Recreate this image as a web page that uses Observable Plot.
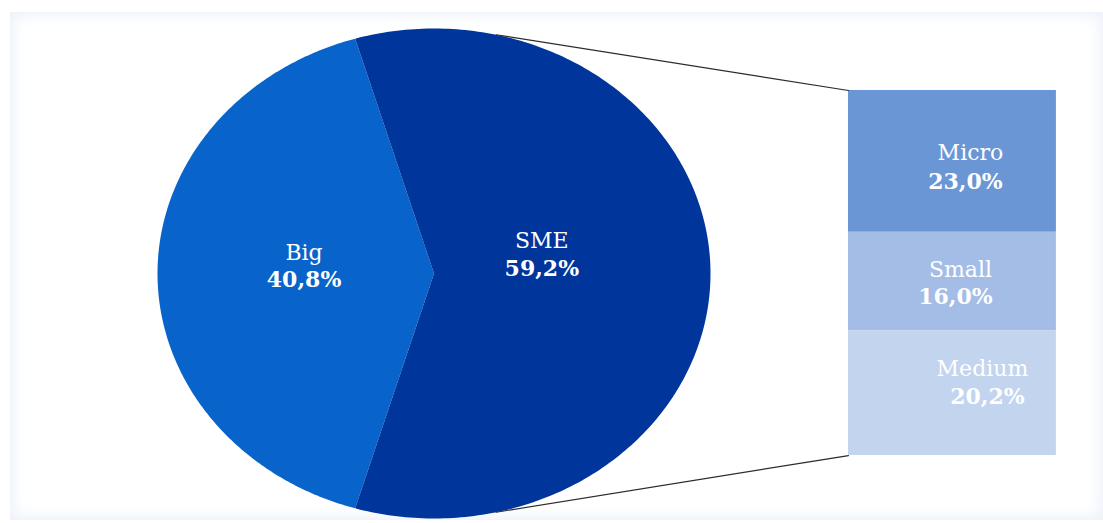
<!DOCTYPE html>
<html>
<head>
<meta charset="utf-8">
<script src="https://cdn.jsdelivr.net/npm/d3@7"></script>
<script src="https://cdn.jsdelivr.net/npm/@observablehq/plot@0.6"></script>
<style>
  html, body { margin: 0; padding: 0; background: #ffffff; }
  #wrap { position: relative; width: 1103px; height: 523px; overflow: hidden; }
  #panel { position: absolute; left: 10px; top: 12px; width: 1093px; height: 508px;
           background: #ffffff; box-shadow: inset 0 0 14px 4px #edf2f9; }
  #chart { position: absolute; left: 0; top: 0; }
</style>
</head>
<body>
<div id="wrap"><div id="panel"></div><div id="chart"></div></div>
<script>
// ---- data ----
const pieLabels = ["Big", "SME"];
const pieValues = [40.8, 59.2];
const barLabels = ["Micro", "Small", "Medium"];
const barValues = [23.0, 16.0, 20.2];

// ---- style / layout ----
const pieColors = ["#0864ca", "#00359c"];
const barColors = ["#6b96d6", "#a3bde6", "#c3d4ee"];
const fontFamily = "'DejaVu Serif', 'Liberation Serif', serif";
const fontSize = 22;
const barX1 = 1.499, barX2 = 2.251;
const barTop = 0.747, barBottom = -0.743;

// pie geometry (angles clockwise from top), first slice centred on the left
const total = d3.sum(pieValues);
const bigSpan = 2 * Math.PI * pieValues[0] / total;
const bigStart = 1.5 * Math.PI - bigSpan / 2;
const bigEnd = 1.5 * Math.PI + bigSpan / 2;
const sliceAngles = [[bigStart, bigEnd], [bigEnd, bigStart + 2 * Math.PI]];

const slicePts = [];
sliceAngles.forEach(([a0, a1], i) => {
  slicePts.push({name: pieLabels[i], x: 0, y: 0});
  const n = 240;
  for (let k = 0; k <= n; k++) {
    const t = a0 + (a1 - a0) * k / n;
    slicePts.push({name: pieLabels[i], x: Math.sin(t), y: Math.cos(t)});
  }
});

// label positions for pie
const pieLabelR = [0.47, 0.39];
const pieTextOff = [{n: -21, v: 6}, {n: -33, v: -5}];
const pieText = pieLabels.map((name, i) => {
  const [a0, a1] = sliceAngles[i];
  const m = (a0 + a1) / 2;
  return {name, value: pieValues[i], x: pieLabelR[i] * Math.sin(m), y: pieLabelR[i] * Math.cos(m)};
});

// bar stack (scaled to SME slice)
const barY = d3.scaleLinear([0, pieValues[1]], [barTop, barBottom]);
let cum = 0;
const barRows = barLabels.map((name, i) => {
  const r = {name, value: barValues[i], y1: barY(cum), y2: barY(cum + barValues[i])};
  cum += barValues[i];
  return r;
});
const barTextOff = [
  {nx: 18, vx: 13, ny: -8, vy: 21},
  {nx: 8, vx: 3, ny: -12, vy: 15},
  {nx: 30, vx: 35, ny: -24, vy: 4}
];

// connectors
const aTop = 13 * Math.PI / 180, aBot = 167 * Math.PI / 180;
const connectors = [
  {k: "top", x: Math.sin(aTop), y: Math.cos(aTop)}, {k: "top", x: barX1, y: barTop},
  {k: "bot", x: Math.sin(aBot), y: Math.cos(aBot)}, {k: "bot", x: barX1, y: barBottom}
];

const fmt = v => v.toFixed(1).replace(".", ",") + "%";
const cx = (barX1 + barX2) / 2;
const txt = {fill: "white", fontSize, fontFamily};

const plot = Plot.plot({
  width: 1103,
  height: 523,
  margin: 0,
  x: {domain: [-1, 1], range: [157, 710], axis: null},
  y: {domain: [-1, 1], range: [518, 28], axis: null},
  color: {domain: [...pieLabels, ...barLabels], range: [...pieColors, ...barColors]},
  style: {background: "transparent", fontFamily},
  marks: [
    Plot.line(slicePts, {x: "x", y: "y", z: "name", fill: "name", stroke: "none", curve: "linear-closed"}),
    Plot.rect(barRows, {x1: barX1, x2: barX2, y1: "y1", y2: "y2", fill: "name"}),
    Plot.line(connectors, {x: "x", y: "y", z: "k", stroke: "#2b2b2b", strokeWidth: 1.2}),
    ...pieText.map((d, i) => Plot.text([d], {x: "x", y: "y", text: "name", dy: pieTextOff[i].n, ...txt})),
    ...pieText.map((d, i) => Plot.text([d], {x: "x", y: "y", text: d => fmt(d.value), dy: pieTextOff[i].v, fontWeight: "bold", ...txt})),
    ...barRows.map((d, i) => Plot.text([d], {x: cx, y: d => (d.y1 + d.y2) / 2, text: "name", dx: barTextOff[i].nx, dy: barTextOff[i].ny, ...txt})),
    ...barRows.map((d, i) => Plot.text([d], {x: cx, y: d => (d.y1 + d.y2) / 2, text: d => fmt(d.value), dx: barTextOff[i].vx, dy: barTextOff[i].vy, fontWeight: "bold", ...txt}))
  ]
});
document.getElementById("chart").appendChild(plot);
</script>
</body>
</html>
